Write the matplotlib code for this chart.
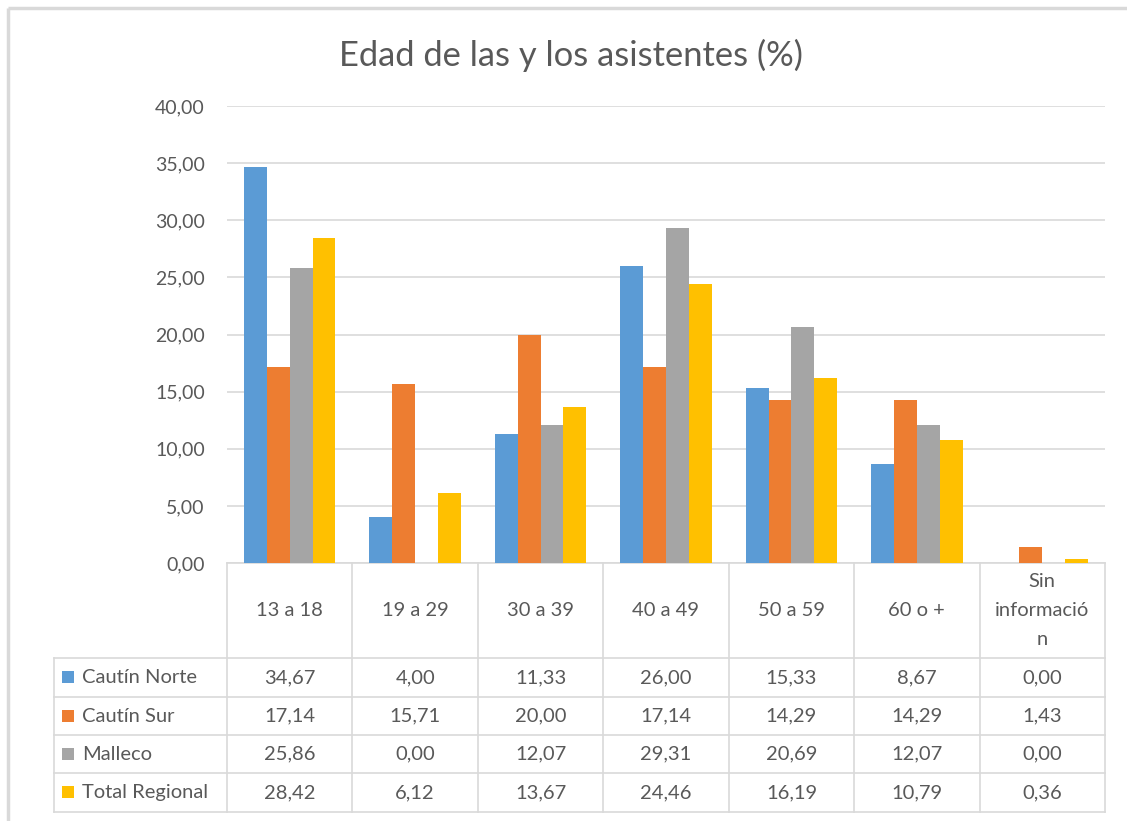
import matplotlib
matplotlib.use("Agg")
import matplotlib.pyplot as plt
import numpy as np

# ---- data ----
title = "Edad de las y los asistentes (%)"
categories = ["13 a 18", "19 a 29", "30 a 39", "40 a 49", "50 a 59", "60 o +", "Sin\ninformació\nn"]
series_names = ["Cautín Norte", "Cautín Sur", "Malleco", "Total Regional"]
cautin_norte = [34.67, 4.00, 11.33, 26.00, 15.33, 8.67, 0.00]
cautin_sur = [17.14, 15.71, 20.00, 17.14, 14.29, 14.29, 1.43]
malleco = [25.86, 0.00, 12.07, 29.31, 20.69, 12.07, 0.00]
total_regional = [28.42, 6.12, 13.67, 24.46, 16.19, 10.79, 0.36]
y_ticks = [0, 5, 10, 15, 20, 25, 30, 35, 40]

series = [cautin_norte, cautin_sur, malleco, total_regional]
colors = ["#5B9BD5", "#ED7D31", "#A5A5A5", "#FFC000"]
TXT = "#595959"
GRID = "#D9D9D9"
FONT = "Lato"

W, H = 1127, 821
fig = plt.figure(figsize=(W / 100, H / 100), dpi=100)
fig.patch.set_facecolor("white")

# plot area in pixels
L, R, T, B = 227, 1105, 106, 563
ax = fig.add_axes([L / W, (H - B) / H, (R - L) / W, (B - T) / H])
n = len(categories)
x = np.arange(n) + 0.5
bw = 0.182
for i, (vals, c) in enumerate(zip(series, colors)):
    ax.bar(x + (i - 1.5) * bw, vals, width=bw, color=c, zorder=3, linewidth=0)

ax.set_xlim(0, n)
ax.set_ylim(0, 40)
ax.set_yticks(y_ticks)
ax.set_yticklabels([f"{v:.2f}".replace(".", ",") for v in y_ticks],
                   fontfamily=FONT, fontsize=14, color=TXT)
ax.tick_params(axis="y", length=0, pad=16)
ax.set_xticks([])
ax.grid(axis="y", color=GRID, linewidth=1.2, zorder=0)
for s in ax.spines.values():
    s.set_visible(False)
ax.set_facecolor("none")

# overlay axes in pixel coords for table, title, border
ov = fig.add_axes([0, 0, 1, 1], zorder=-1)
ov.set_xlim(0, W)
ov.set_ylim(H, 0)
ov.axis("off")

# chart border (top and left)
ov.plot([7.5, W], [8, 8], color=GRID, lw=2.5, solid_capstyle="butt")
ov.plot([7.5, 7.5], [8, H], color=GRID, lw=2.5, solid_capstyle="butt")

ov.text(571, 55, title, fontfamily=FONT, fontsize=24.8, color=TXT,
        ha="center", va="center", fontweight="normal")

colw = (R - L) / n
row_lines = [658, 697, 735, 773, 812]
label_left = 54
# horizontal lines
ov.plot([L, R], [B, B], color=GRID, lw=1.2)
for yl in row_lines:
    ov.plot([label_left, R], [yl, yl], color=GRID, lw=1.2)
# vertical lines
for k in range(n + 1):
    ov.plot([L + k * colw] * 2, [B, row_lines[-1]], color=GRID, lw=1.2)
ov.plot([label_left] * 2, [row_lines[0], row_lines[-1]], color=GRID, lw=1.2)

# header labels
for k, cat in enumerate(categories):
    ov.text(L + (k + 0.5) * colw, (B + row_lines[0]) / 2, cat, fontfamily=FONT,
            fontsize=14.5, color=TXT, ha="center", va="center", linespacing=1.85)

# rows
for r, (name, vals, c) in enumerate(zip(series_names, series, colors)):
    yc = (row_lines[r] + row_lines[r + 1]) / 2
    ov.add_patch(plt.Rectangle((62, yc - 6), 12, 12, color=c, lw=0))
    ov.text(82, yc, name, fontfamily=FONT, fontsize=14.5, color=TXT, ha="left", va="center")
    for k, v in enumerate(vals):
        ov.text(L + (k + 0.5) * colw, yc, f"{v:.2f}".replace(".", ","), fontfamily=FONT,
                fontsize=14.5, color=TXT, ha="center", va="center")

fig.savefig("out.png", dpi=100)
